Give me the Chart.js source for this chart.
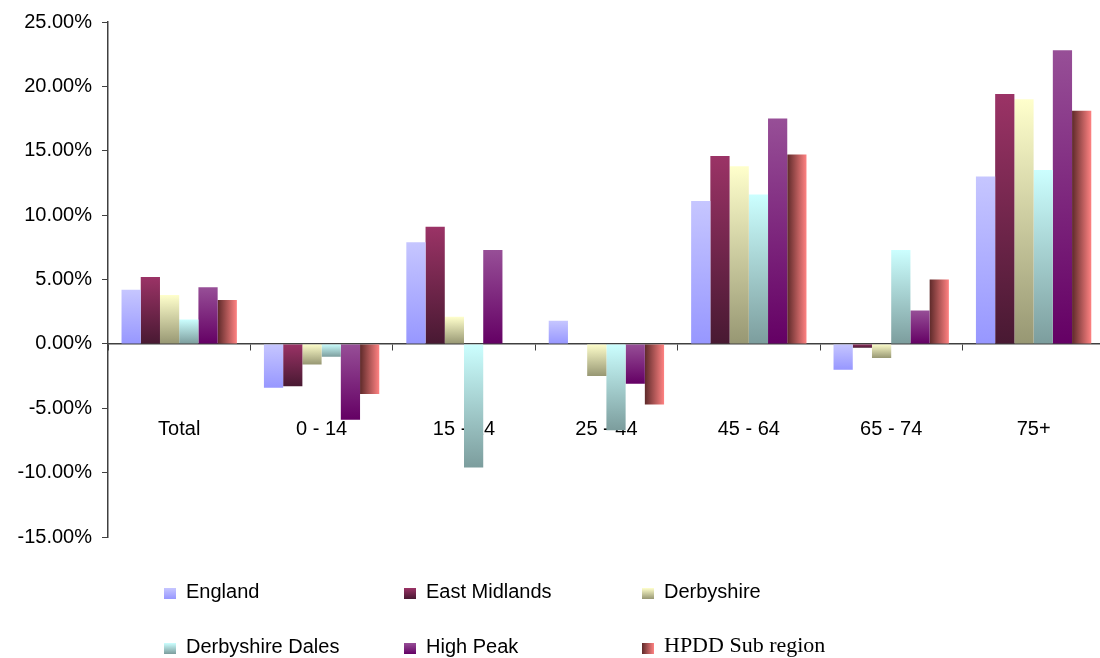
<!DOCTYPE html>
<html>
<head>
<meta charset="utf-8">
<script src="https://cdn.jsdelivr.net/npm/chart.js@4/dist/chart.umd.min.js"></script>
<style>
  html, body { margin: 0; padding: 0; background: #fff; overflow: hidden; }
  #wrap { position: absolute; left: 0; top: 0; width: 1119px; height: 658px; }
  .leg { position: absolute; font-family: "Liberation Sans", Arial, sans-serif; font-size: 20px; color: #000; white-space: nowrap; }
  .box { position: absolute; width: 12px; height: 11px; }
</style>
</head>
<body>
<div id="wrap"><canvas id="chart"></canvas></div>
<div id="legend"></div>
<script>
// categories and series (percentage change)
const ageGroups = ['Total', '0 - 14', '15 - 24', '25 - 44', '45 - 64', '65 - 74', '75+'];
const england          = [4.2, -3.4,  7.9,  1.8, 11.1, -2.0, 13.0];
const eastMidlands     = [5.2, -3.3,  9.1,  0.0, 14.6, -0.3, 19.4];
const derbyshire       = [3.8, -1.6,  2.1, -2.5, 13.8, -1.1, 19.0];
const derbyshireDales  = [1.9, -1.0, -9.6, -6.7, 11.6,  7.3, 13.5];
const highPeak         = [4.4, -5.9,  7.3, -3.1, 17.5,  2.6, 22.8];
const hpddSubRegion    = [3.4, -3.9,  0.0, -4.7, 14.7,  5.0, 18.1];
const seriesNames = ['England', 'East Midlands', 'Derbyshire', 'Derbyshire Dales', 'High Peak', 'HPDD Sub region'];
const yTicks = [-15, -10, -5, 0, 5, 10, 15, 20, 25];

// gradient end colours: [light, dark]; last one runs left -> right
const fills = [
    ['#c6c6ff', '#9797ff'],
    ['#9b3366', '#481932'],
    ['#ffffcc', '#979773'],
    ['#ccffff', '#7c9d9d'],
    ['#974f97', '#640064'],
    ['#5e2a2a', '#ff8282']
];
const catPct = 0.81;

function barFill(ctx) {
    const chart = ctx.chart;
    const c = fills[ctx.datasetIndex];
    if (!chart.chartArea || ctx.type !== 'data') return c[1];
    const g = chart.ctx;
    const ys = chart.scales.y, xs = chart.scales.x;
    let grad;
    if (ctx.datasetIndex === 5) {
        const n = chart.data.datasets.length;
        const catW = xs.width / chart.data.labels.length;
        const bw = catW * catPct / n;
        const left = xs.getPixelForValue(ctx.dataIndex) - catW * catPct / 2 + ctx.datasetIndex * bw;
        grad = g.createLinearGradient(left, 0, left + bw, 0);
    } else {
        const v = ctx.parsed.y;
        const top = ys.getPixelForValue(Math.max(v, 0));
        const bot = ys.getPixelForValue(Math.min(v, 0));
        grad = g.createLinearGradient(0, top, 0, bot + 0.01);
    }
    grad.addColorStop(0, c[0]);
    grad.addColorStop(1, c[1]);
    return grad;
}

const allSeries = [england, eastMidlands, derbyshire, derbyshireDales, highPeak, hpddSubRegion];

new Chart(document.getElementById('chart').getContext('2d'), {
    type: 'bar',
    data: {
        labels: ageGroups,
        datasets: allSeries.map((d, i) => ({
            label: seriesNames[i],
            data: d,
            backgroundColor: barFill,
            borderWidth: 0,
            categoryPercentage: catPct,
            barPercentage: 1
        }))
    },
    options: {
        responsive: true,
        maintainAspectRatio: false,
        animation: false,
        layout: { padding: { top: 20, right: 6, bottom: 121, left: 0 } },
        plugins: { legend: { display: false }, tooltip: { enabled: false } },
        scales: {
            x: {
                position: { y: 0 },
                grid: { offset: true, drawOnChartArea: false, drawTicks: true, tickLength: 6, color: '#404040' },
                border: { display: true, color: '#404040', width: 1.5 },
                ticks: {
                    color: '#000',
                    padding: 68,
                    font: { family: '"Liberation Sans", Arial, sans-serif', size: 20 }
                }
            },
            y: {
                min: -15,
                max: 25,
                afterBuildTicks: s => { s.ticks = yTicks.map(v => ({ value: v })); },
                afterFit: s => { s.width = 108; },
                grid: { drawOnChartArea: false, drawTicks: true, tickLength: 6, color: '#404040' },
                border: { color: '#404040', width: 1.5 },
                ticks: {
                    color: '#000',
                    padding: 10,
                    callback: v => v.toFixed(2) + '%',
                    font: { family: '"Liberation Sans", Arial, sans-serif', size: 20 }
                }
            }
        }
    }
});

// legend, 3 columns x 2 rows
const legCols = [164, 404, 642];
const legRows = [588, 643];
const legend = document.getElementById('legend');
seriesNames.forEach((name, i) => {
    const bx = legCols[i % 3], by = legRows[Math.floor(i / 3)];
    const c = fills[i];
    const box = document.createElement('div');
    box.className = 'box';
    box.style.left = bx + 'px';
    box.style.top = by + 'px';
    box.style.background = i === 5
        ? 'linear-gradient(to right, ' + c[0] + ', ' + c[1] + ')'
        : 'linear-gradient(to bottom, ' + c[0] + ', ' + c[1] + ')';
    legend.appendChild(box);
    const t = document.createElement('div');
    t.className = 'leg';
    t.textContent = name;
    t.style.left = (bx + 22) + 'px';
    t.style.top = (by - 8) + 'px';
    if (i === 5) {
        t.style.fontFamily = '"Liberation Serif", "Times New Roman", serif';
        t.style.fontSize = '22px';
        t.style.top = (by - 11) + 'px';
    }
    legend.appendChild(t);
});
</script>
</body>
</html>
